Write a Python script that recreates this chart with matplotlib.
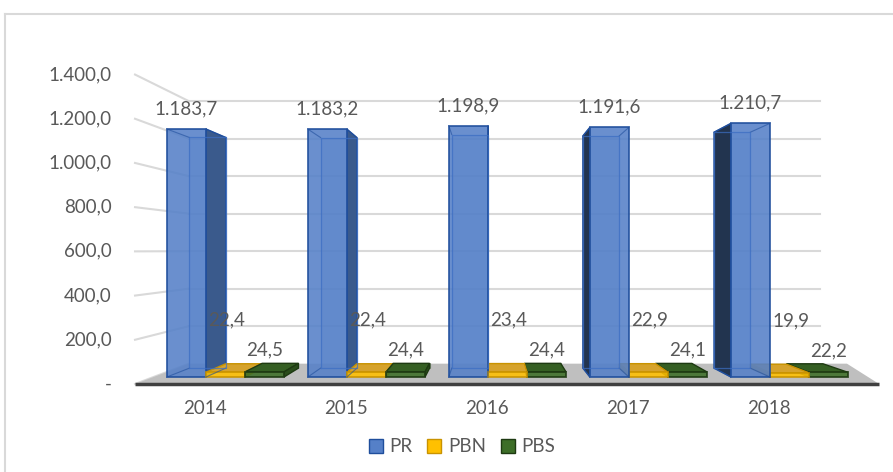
"""
3D-style clustered bar chart (PR / PBN / PBS, 2014-2018)
"""

import matplotlib
matplotlib.use('agg')
import matplotlib.pyplot as plt
from matplotlib.patches import Polygon, Patch
from matplotlib.lines import Line2D

plt.rcParams['font.family'] = ['Lato', 'DejaVu Sans']

years = ['2014', '2015', '2016', '2017', '2018']
series = ['PR', 'PBN', 'PBS']
pr = [1183.7, 1183.2, 1198.9, 1191.6, 1210.7]
pbn = [22.4, 22.4, 23.4, 22.9, 19.9]
pbs = [24.5, 24.4, 24.4, 24.1, 22.2]
y_ticks = [0, 200, 400, 600, 800, 1000, 1200, 1400]

TEXT = '#595959'
# front, top, right side, left side, edge
styles = {
    'PR': ('#5580c8', '#4a74bd', '#3a5a8c', '#22344f', '#1f4e9c'),
    'PBN': ('#ffc000', '#d6a32c', '#b88a10', '#b88a10', '#c99300'),
    'PBS': ('#3d6e28', '#355f23', '#2a4d1b', '#2a4d1b', '#1e3a12'),
}

# simple perspective: points move toward a vanishing point with depth factor s
UC, VC = 2.021, 606.0
S_AXIS, S_BACK, S_WALL = 1.055, 0.93, 0.895
U_LEFT, U_RIGHT = -0.365, 4.637
WIDTH = 0.277
SHIFT = 0.145


def proj(u, v, s):
    return (UC + s * (u - UC), VC + s * (v - VC))


def fmt(x):
    if x == 0:
        return '-'
    return f"{x:,.1f}".replace(',', 'X').replace('.', ',').replace('X', '.')


def draw_box(axes, x0, x1, h, name):
    front, top, side_r, side_l, edge = styles[name]
    tall = h > VC
    b = [proj(x0, 0, S_BACK), proj(x1, 0, S_BACK),
         proj(x1, h, S_BACK), proj(x0, h, S_BACK)]
    # back face seen through the front
    axes.add_patch(Polygon(b, closed=True, facecolor=front, alpha=0.35,
                           edgecolor=edge, linewidth=0.8, zorder=3))
    if not tall:
        axes.add_patch(Polygon([(x0, h), (x1, h), b[2], b[3]], closed=True,
                               facecolor=top, edgecolor=edge, linewidth=1,
                               zorder=3))
    if x1 < UC:
        axes.add_patch(Polygon([(x1, 0), (x1, h), b[2], b[1]], closed=True,
                               facecolor=side_r, edgecolor=edge,
                               linewidth=1, zorder=3))
    elif x0 > UC:
        axes.add_patch(Polygon([(x0, 0), (x0, h), b[3], b[0]], closed=True,
                               facecolor=side_l, edgecolor=edge,
                               linewidth=1, zorder=3))
    axes.bar((x0 + x1) / 2, h, width=x1 - x0, color=front, alpha=0.88,
             edgecolor=edge, linewidth=1.3, zorder=4)
    if tall:
        for (fx, fy), (bx, by) in zip([(x0, 0), (x1, 0), (x1, h), (x0, h)], b):
            axes.plot([fx, bx], [fy, by], color=edge, lw=0.8, alpha=0.6,
                      zorder=4.5)
        xs, ys = zip(*(b + [b[0]]))
        axes.plot(xs, ys, color='#3d6fc4', lw=0.9, alpha=0.7, zorder=4.5)


fig = plt.figure(figsize=(8.93, 4.72), dpi=100)
ax = fig.add_axes([0, 0, 1, 1])
ax.set_xlim(-205 / 141, (893 - 205) / 141)
ax.set_ylim((377 - 472) / 0.2095, 377 / 0.2095)
ax.axis('off')

# chart border
fig.add_artist(Line2D([5 / 893, 5 / 893], [0, 1 - 14 / 472],
                      color='#d9d9d9', lw=1.5))
fig.add_artist(Line2D([5 / 893, 1], [1 - 14 / 472, 1 - 14 / 472],
                      color='#d9d9d9', lw=1.5))

# walls and gridlines
for k in y_ticks:
    fx, fy = proj(U_LEFT, k, S_AXIS)
    bx, by = proj(U_LEFT, k, S_WALL)
    rx, ry = proj(U_RIGHT, k, S_WALL)
    ax.plot([fx, bx], [fy, by], color='#d9d9d9', lw=1.5, zorder=1)
    if k > 0:
        ax.plot([bx, rx], [by, ry], color='#d9d9d9', lw=1.5, zorder=1)
    ax.text(-0.66, fy, fmt(k), ha='right', va='center', fontsize=13.5,
            color=TEXT)

floor = [proj(U_LEFT, 0, S_AXIS), proj(U_RIGHT, 0, S_AXIS),
         proj(4.85, 0, S_WALL), proj(U_LEFT, 0, S_WALL)]
ax.add_patch(Polygon(floor, closed=True, facecolor='#bfbfbf',
                     edgecolor='none', zorder=2))
ax.plot([floor[0][0], floor[1][0]], [floor[0][1], floor[1][1]],
        color='#404040', lw=2.5, zorder=2.5, solid_capstyle='butt')

# bars, drawn from farthest to nearest the vanishing point
values = [pr, pbn, pbs]
boxes = []
for i in range(len(years)):
    for j, name in enumerate(series):
        c = i + SHIFT + (j - 1) * WIDTH
        boxes.append((c, values[j][i], name))
boxes.sort(key=lambda b: -abs(b[0] - UC))
for c, h, name in boxes:
    draw_box(ax, c - WIDTH / 2, c + WIDTH / 2, h, name)

# data labels
label_offsets = {'PR': (0.0, 97), 'PBN': (0.01, 248), 'PBS': (0.0, 104)}
for j, name in enumerate(series):
    dx, dy = label_offsets[name]
    for i, v in enumerate(values[j]):
        c = i + SHIFT + (j - 1) * WIDTH
        ax.text(c + dx, v + dy, fmt(v), ha='center', va='center',
                fontsize=13.5, color=TEXT, zorder=6)

for i, y in enumerate(years):
    ax.text(i, -148, y, ha='center', va='center', fontsize=13.5, color=TEXT)

handles = [Patch(facecolor=styles[n][0], edgecolor=styles[n][4], label=n)
           for n in series]
fig.legend(handles=handles, loc='center', ncol=3, frameon=False,
           bbox_to_anchor=(462 / 893, 1 - 447 / 472), fontsize=13.5,
           handlelength=0.75, handleheight=0.75, handletextpad=0.35,
           columnspacing=0.8, labelcolor=TEXT)

fig.savefig('out.png', dpi=100)
